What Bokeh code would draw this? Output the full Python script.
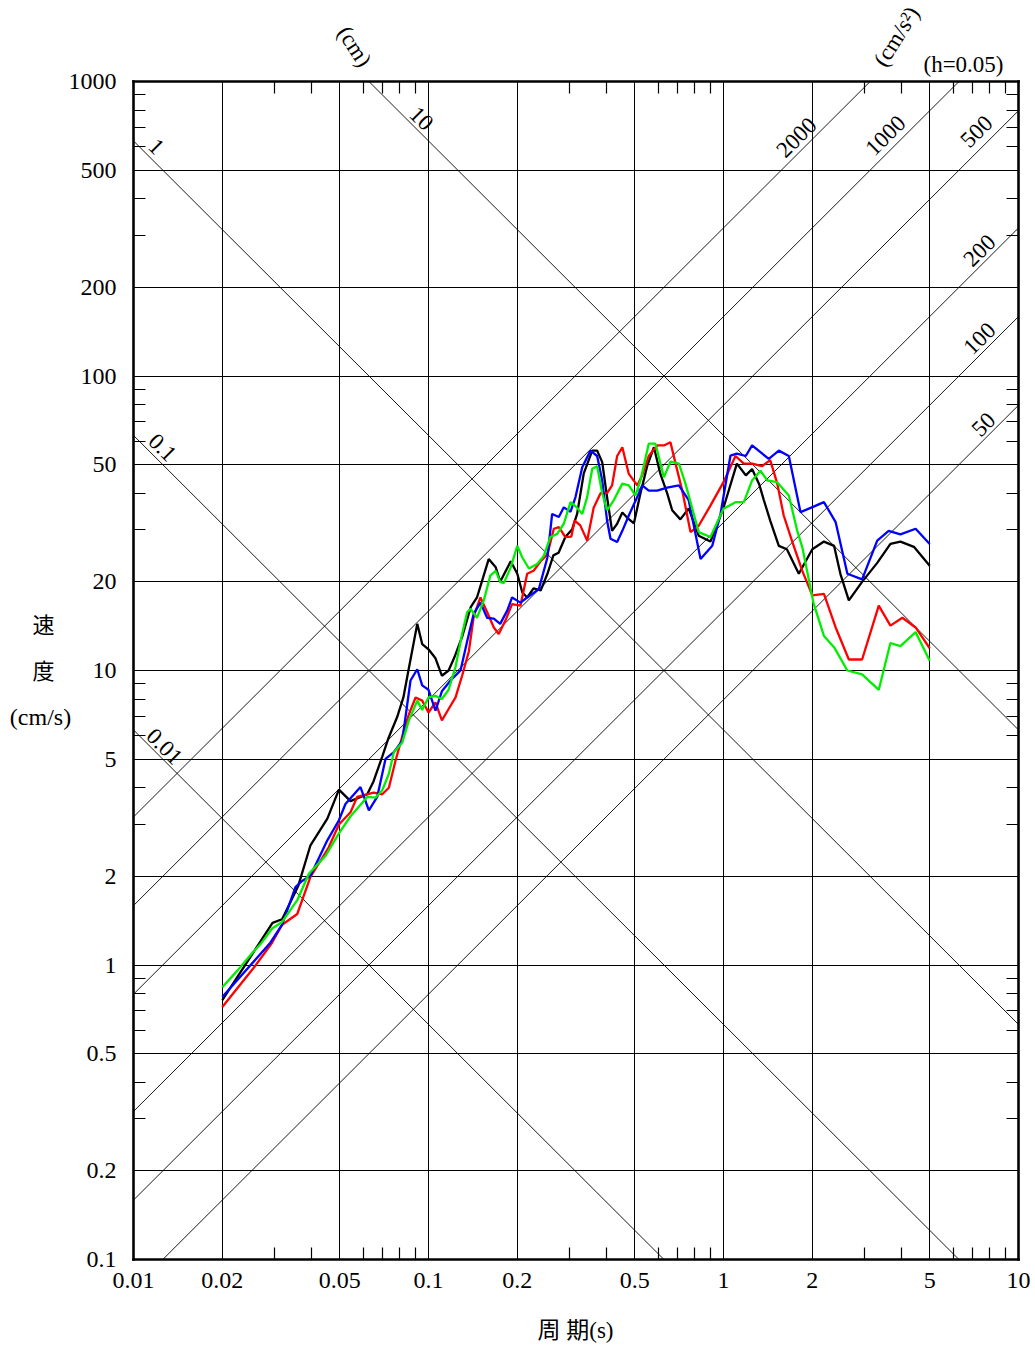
import numpy as np
from bokeh.plotting import figure
from bokeh.models import Range1d, FixedTicker, LogAxis, Label, CustomJSTickFormatter
from bokeh.embed import file_html
from bokeh.resources import INLINE

# ---------------- data (period s, pseudo velocity cm/s) ----------------
black_T = [0.020, 0.0296, 0.0319, 0.0362, 0.0398, 0.0454, 0.0497, 0.0544, 0.0620, 0.0651, 0.0697, 0.0732,
           0.0783, 0.0822, 0.0855, 0.0916, 0.0952, 0.100, 0.1056, 0.111, 0.117, 0.122, 0.130, 0.139, 0.146,
           0.152, 0.160, 0.169, 0.175, 0.190, 0.200, 0.208, 0.216, 0.227, 0.240, 0.253, 0.265, 0.276, 0.291,
           0.307, 0.319, 0.336, 0.359, 0.373, 0.388, 0.403, 0.419, 0.436, 0.454, 0.472, 0.497, 0.523, 0.551,
           0.581, 0.611, 0.644, 0.670, 0.714, 0.762, 0.824, 0.903, 1.00, 1.11, 1.19, 1.25, 1.32, 1.37, 1.44,
           1.54, 1.64, 1.80, 2.00, 2.19, 2.37, 2.49, 2.66, 2.95, 3.32, 3.68, 3.98, 4.42, 5.00]
black_V = [0.76, 1.39, 1.43, 1.86, 2.55, 3.14, 3.94, 3.6, 3.8, 4.2, 5.1, 5.9, 6.95, 8.1, 10.0, 14.4, 12.3,
           11.8, 11.0, 9.6, 10.0, 11.0, 13.0, 16.4, 17.7, 20.2, 23.9, 22.4, 20.0, 23.5, 21.3, 18.4, 17.7,
           19.0, 18.7, 21.3, 24.6, 25.1, 28.4, 30.2, 34, 46.7, 55.8, 55.8, 51, 38.8, 29.8, 31.5, 34.4, 33,
           31.6, 40, 49.4, 57.3, 46.5, 40, 35, 32.6, 35.5, 28.7, 27.4, 35.7, 50.4, 46, 48.3, 43, 37.9, 32.3,
           26.5, 25.8, 21.3, 25.8, 27.4, 26.5, 21.3, 17.3, 20, 23.2, 26.9, 27.4, 26.3, 22.7]

blue_T = [0.0200, 0.0291, 0.0319, 0.0354, 0.0373, 0.0398, 0.0454, 0.0497, 0.0523, 0.0588, 0.0628, 0.067,
          0.0715, 0.0763, 0.0815, 0.0869, 0.0916, 0.0952, 0.100, 0.1056, 0.111, 0.1188, 0.1284, 0.1353,
          0.1424, 0.150, 0.158, 0.1665, 0.175, 0.185, 0.192, 0.205, 0.216, 0.2366, 0.253, 0.2625, 0.2765,
          0.2875, 0.303, 0.315, 0.332, 0.354, 0.373, 0.388, 0.403, 0.414, 0.436, 0.454, 0.4775, 0.510, 0.530,
          0.558, 0.596, 0.644, 0.706, 0.762, 0.836, 0.916, 0.977, 1.056, 1.11, 1.19, 1.25, 1.424, 1.54,
          1.665, 1.824, 2.02, 2.19, 2.40, 2.63, 2.95, 3.32, 3.63, 3.98, 4.48, 5.00]
blue_V = [0.778, 1.19, 1.37, 1.84, 1.93, 2.01, 2.65, 3.1, 3.52, 4.02, 3.35, 3.72, 5.01, 5.28, 5.78, 9.25,
          10.1, 8.9, 8.6, 7.3, 8.5, 9.25, 10.0, 12.6, 15.6, 17.0, 15.1, 15.0, 14.4, 16.0, 17.7, 17.0, 17.7,
          18.9, 24.2, 34.0, 33.2, 35.8, 34.6, 38.8, 49, 55.8, 53.5, 44.2, 32.3, 28, 27.3, 29.8, 33.6, 38.8,
          42.5, 40.8, 40.8, 41.8, 42.5, 37.9, 23.9, 26.5, 34, 53.7, 54.5, 53.5, 58.1, 52.3, 55.8, 53.5, 34.5,
          36, 37.3, 31.9, 21.3, 20.4, 27.6, 29.8, 29, 30.3, 26.9]

red_T = [0.020, 0.0256, 0.0295, 0.0319, 0.0359, 0.0398, 0.0459, 0.0497, 0.0544, 0.0573, 0.0652, 0.0697,
         0.0734, 0.0773, 0.0825, 0.0858, 0.0904, 0.0952, 0.100, 0.1056, 0.111, 0.117, 0.1235, 0.130, 0.137,
         0.1424, 0.150, 0.158, 0.1665, 0.173, 0.1824, 0.192, 0.205, 0.216, 0.227, 0.240, 0.253, 0.266,
         0.2765, 0.291, 0.305, 0.313, 0.327, 0.345, 0.363, 0.383, 0.403, 0.419, 0.436, 0.454, 0.4775, 0.510,
         0.530, 0.558, 0.596, 0.628, 0.661, 0.688, 0.725, 0.773, 0.824, 0.903, 1.00, 1.098, 1.172, 1.25,
         1.352, 1.44, 1.52, 1.60, 1.71, 1.85, 2.00, 2.19, 2.40, 2.66, 2.95, 3.36, 3.68, 4.04, 4.48, 5.00]
red_V = [0.72, 0.98, 1.19, 1.37, 1.49, 1.99, 2.51, 3.0, 3.3, 3.72, 3.85, 3.8, 4.0, 4.94, 6.25, 7.1, 8.1,
         7.9, 7.2, 7.8, 6.77, 7.4, 8.1, 9.6, 11.6, 15.3, 17.7, 15.8, 14.0, 13.3, 14.8, 16.8, 16.6, 21.3,
         21.8, 23.5, 24.8, 30.3, 30.7, 28.4, 28.5, 32.3, 31.1, 27.6, 35.7, 40, 40, 42.5, 53.5, 57.3, 46.5,
         42.5, 46, 53.5, 58.1, 58.1, 59.6, 50.4, 40.8, 29.5, 31, 36.3, 43.6, 53.5, 50.4, 50.4, 49.4, 51.8,
         43.3, 33.6, 27.4, 21.8, 18, 18.2, 14, 10.9, 10.9, 16.6, 14.2, 15.1, 14, 11.9]

green_T = [0.020, 0.0225, 0.0253, 0.0270, 0.0295, 0.0319, 0.0359, 0.0393, 0.0448, 0.0497, 0.0544, 0.0620,
           0.0661, 0.0697, 0.0734, 0.0763, 0.0815, 0.0858, 0.0916, 0.0952, 0.100, 0.1056, 0.111, 0.117,
           0.1235, 0.130, 0.1353, 0.139, 0.146, 0.154, 0.162, 0.169, 0.175, 0.180, 0.190, 0.200, 0.208,
           0.219, 0.2336, 0.246, 0.259, 0.273, 0.2875, 0.303, 0.319, 0.332, 0.345, 0.359, 0.373, 0.388,
           0.403, 0.425, 0.454, 0.4775, 0.503, 0.523, 0.558, 0.588, 0.628, 0.661, 0.706, 0.743, 0.773,
           0.824, 0.903, 1.00, 1.098, 1.172, 1.25, 1.335, 1.406, 1.52, 1.665, 1.778, 1.85, 2.02, 2.19,
           2.37, 2.63, 2.95, 3.36, 3.68, 3.98, 4.48, 5.00]
green_V = [0.84, 0.957, 1.10, 1.18, 1.33, 1.40, 1.66, 2.04, 2.35, 2.8, 3.2, 3.72, 3.7, 3.92, 4.46, 5.28,
           5.7, 6.77, 7.9, 7.35, 8.1, 8.2, 8.0, 8.6, 10.3, 13.3, 15.8, 16.2, 15.1, 17.3, 21.0, 21.8, 20.0,
           19.8, 22.4, 26.5, 24.2, 22.2, 23.0, 24.5, 28.4, 29.1, 31.5, 37.3, 35.7, 34, 38.8, 48.4, 49.4, 40,
           35, 37.9, 43.1, 42.5, 39.3, 44.2, 58.9, 58.9, 45.3, 51.2, 50.4, 43.1, 37.3, 29.5, 28.4, 35.4,
           37.3, 37.3, 44.2, 47.7, 44.2, 43.6, 39.3, 29.8, 26.2, 16.9, 13.1, 12, 10, 9.7, 8.6, 12.4, 12.1,
           13.5, 10.8]

# tripartite guide lines
disp_cm = [0.01, 0.1, 1, 10]                 # displacement (cm)
acc_gal = [50, 100, 200, 500, 1000, 2000]    # acceleration (cm/s2)

# axis box and ticks
x_box = (0.01, 10.0)
y_box = (0.1, 1000.0)
x_major = [0.01, 0.02, 0.05, 0.1, 0.2, 0.5, 1, 2, 5, 10]
x_minor = [0.03, 0.04, 0.06, 0.07, 0.08, 0.09, 0.3, 0.4, 0.6, 0.7, 0.8, 0.9, 3, 4, 6, 7, 8, 9]
y_major = [0.1, 0.2, 0.5, 1, 2, 5, 10, 20, 50, 100, 200, 500, 1000]
y_minor = [0.3, 0.4, 0.6, 0.7, 0.8, 0.9, 3, 4, 6, 7, 8, 9, 30, 40, 60, 70, 80, 90, 300, 400, 600, 700, 800, 900]

SERIF = "Liberation Serif"
MIXED = "Liberation Serif, Noto Sans CJK JP"
FS = "24px"

# ---------------- layout (page pixels) ----------------
W, H = 1032, 1344
BOX_L, BOX_R, BOX_T, BOX_B = 133, 1018, 81, 1259


def T_at(px):
    return 10 ** (np.log10(x_box[0]) + (px - BOX_L) / (BOX_R - BOX_L) * np.log10(x_box[1] / x_box[0]))


def V_at(py):
    return 10 ** (np.log10(y_box[1]) - (py - BOX_T) / (BOX_B - BOX_T) * np.log10(y_box[1] / y_box[0]))


p = figure(width=W, height=H, x_axis_type="log", y_axis_type="log",
           x_range=Range1d(T_at(0), T_at(W)), y_range=Range1d(V_at(H), V_at(0)),
           x_axis_location=None, y_axis_location=None,
           output_backend="svg", toolbar_location=None,
           min_border=0, min_border_left=0, min_border_right=0, min_border_top=0, min_border_bottom=0)
p.title.visible = False
p.grid.visible = False
p.outline_line_color = None
p.background_fill_color = "white"
p.border_fill_color = "white"


def make_axis(ticks, minor, loc, bounds, grid_len, show_labels, standoff=0):
    ax = LogAxis(ticker=FixedTicker(ticks=ticks, minor_ticks=minor), fixed_location=loc, bounds=bounds)
    ax.axis_line_color = "black"
    ax.axis_line_width = 2.6
    ax.axis_line_cap = "square"
    ax.major_tick_in = grid_len
    ax.major_tick_out = 0
    ax.major_tick_line_color = "black"
    ax.major_tick_line_width = 1.0
    ax.minor_tick_in = 12
    ax.minor_tick_out = 0
    ax.minor_tick_line_color = "black"
    ax.minor_tick_line_width = 1.2
    if show_labels:
        ax.formatter = CustomJSTickFormatter(code="return tick.toString();")
        ax.major_label_text_font = SERIF
        ax.major_label_text_font_size = FS
        ax.major_label_text_color = "black"
        ax.major_label_standoff = standoff
    else:
        ax.formatter = CustomJSTickFormatter(code="return '';")
        ax.major_label_text_font_size = "0px"
        ax.major_label_standoff = 0
    return ax


# bottom / left axes carry labels; their long major ticks form the grid
p.add_layout(make_axis(x_major, x_minor, y_box[0], x_box, BOX_B - BOX_T, True, 13), "below")
p.add_layout(make_axis(y_major, y_minor, x_box[0], y_box, BOX_R - BOX_L, True, 17), "left")
p.add_layout(make_axis(x_major, x_minor, y_box[1], x_box, 0, False), "above")
p.add_layout(make_axis(y_major, y_minor, x_box[1], y_box, 0, False), "right")

# diagonal lines clipped to the axis box
for d in disp_cm:
    t0 = max(x_box[0], 2 * np.pi * d / y_box[1])
    t1 = min(x_box[1], 2 * np.pi * d / y_box[0])
    T = np.array([t0, t1])
    p.line(T, 2 * np.pi * d / T, line_color="black", line_width=0.9)
for a in acc_gal:
    t0 = max(x_box[0], 2 * np.pi * y_box[0] / a)
    t1 = min(x_box[1], 2 * np.pi * y_box[1] / a)
    T = np.array([t0, t1])
    p.line(T, a * T / (2 * np.pi), line_color="black", line_width=0.9)

# spectra
for T, V, c in ((black_T, black_V, "#000000"), (red_T, red_V, "#ff0000"),
                (blue_T, blue_V, "#0000ff"), (green_T, green_V, "#00ee00")):
    p.line(T, V, line_color=c, line_width=2.3, level="overlay")


def add_text(px, py, text, angle=0, font=SERIF, size="23px"):
    p.add_layout(Label(x=T_at(px), y=V_at(py), text=text, angle=angle, angle_units="deg",
                       text_align="center", text_baseline="middle", text_font=font,
                       text_font_size=size, text_color="black"))


# diagonal labels
disp_label_pos = {"1": (156, 146), "0.1": (162, 447), "0.01": (164, 746), "10": (421, 118)}
for t, (px, py) in disp_label_pos.items():
    add_text(px, py, t, angle=-45)
acc_label_pos = {"2000": (796, 137), "1000": (885, 135), "500": (976, 131),
                 "200": (979, 250), "100": (979, 338), "50": (983, 424)}
for t, (px, py) in acc_label_pos.items():
    add_text(px, py, t, angle=45)

# unit / header labels
add_text(354, 46, "(cm)", angle=-57)
add_text(896, 36, "(cm/s²)", angle=58)
add_text(963, 64, "(h=0.05)")

# axis titles
add_text(43, 625, "速", font=MIXED, size="22px")
add_text(43, 671, "度", font=MIXED, size="22px")
add_text(40, 716, "(cm/s)", size="24px")
add_text(575, 1330, "周 期(s)", font=MIXED, size="23px")

open("out.html", "w").write(file_html(p, INLINE))
